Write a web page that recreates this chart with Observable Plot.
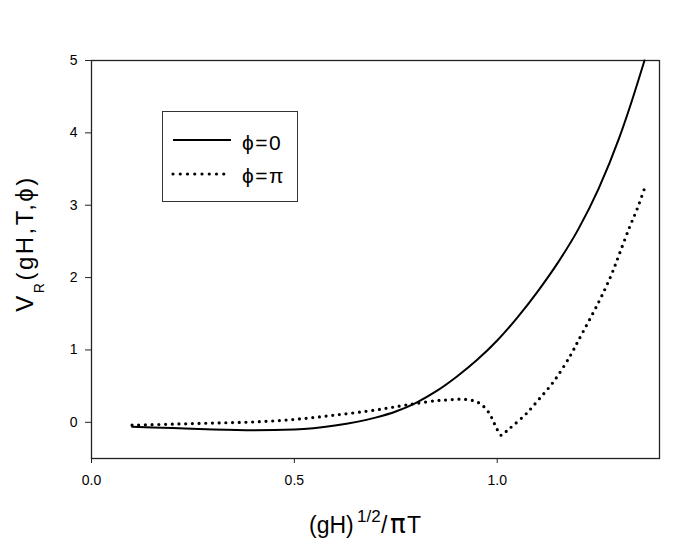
<!DOCTYPE html>
<html>
<head>
<meta charset="utf-8">
<script src="https://cdn.jsdelivr.net/npm/d3@7"></script>
<script src="https://cdn.jsdelivr.net/npm/@observablehq/plot@0.6"></script>
<style>
  body { margin: 0; background: #fff; }
  #wrap { position: relative; width: 692px; height: 544px; font-family: "Liberation Sans", Arial, sans-serif; }
  #legend { position: absolute; left: 162px; top: 111px; }
</style>
</head>
<body>
<div id="wrap"></div>
<script>
// ---- data ----
const xTicks = [0, 0.5, 1.0];
const yTicks = [0, 1, 2, 3, 4, 5];

const seriesNames = ["ϕ=0", "ϕ=π"];

const xPhi0 = [0.10, 0.20, 0.30, 0.40, 0.50, 0.60, 0.70, 0.75, 0.80, 0.85, 0.90, 0.95, 1.00, 1.05, 1.10, 1.15, 1.20, 1.25, 1.30, 1.33, 1.363];
const yPhi0 = [-0.06, -0.08, -0.10, -0.11, -0.10, -0.045, 0.065, 0.15, 0.27, 0.43, 0.63, 0.86, 1.13, 1.45, 1.81, 2.21, 2.67, 3.23, 3.92, 4.41, 5.0];

const xPhiPi = [0.10, 0.20, 0.30, 0.40, 0.50, 0.60, 0.70, 0.76, 0.80, 0.85, 0.88, 0.91, 0.94, 0.96, 0.98, 0.995, 1.01, 1.025, 1.04, 1.07, 1.10, 1.14, 1.18, 1.20, 1.25, 1.28, 1.30, 1.325, 1.345, 1.366];
const yPhiPi = [-0.04, -0.025, -0.01, 0.005, 0.04, 0.10, 0.17, 0.225, 0.26, 0.30, 0.31, 0.32, 0.30, 0.25, 0.13, -0.04, -0.18, -0.11, -0.04, 0.11, 0.30, 0.57, 0.92, 1.13, 1.66, 2.02, 2.31, 2.68, 2.95, 3.28];

const solid = xPhi0.map((x, i) => ({x, y: yPhi0[i]}));
const dotted = xPhiPi.map((x, i) => ({x, y: yPhiPi[i]}));

const chart = Plot.plot({
  width: 692,
  height: 544,
  marginLeft: 91,
  marginRight: 33,
  marginTop: 60,
  marginBottom: 86,
  style: { fontFamily: "Liberation Sans, Arial, sans-serif", fontSize: "14px", color: "#000", background: "#fff" },
  x: { domain: [0, 1.4] },
  y: { domain: [-0.5, 5] },
  marks: [
    Plot.frame({ stroke: "#222", strokeWidth: 1.3 }),
    Plot.axisX({ ticks: xTicks, tickFormat: d3.format(".1f"), tickSize: 5, tickPadding: 12, label: null, stroke: "#222" }),
    Plot.axisY({ ticks: yTicks, tickFormat: d3.format("d"), tickSize: 6, tickPadding: 8, label: null, stroke: "#222" }),
    Plot.line(solid, { x: "x", y: "y", curve: "monotone-x", stroke: "#000", strokeWidth: 2 }),
    Plot.line(dotted, { x: "x", y: "y", curve: "catmull-rom", stroke: "#000", strokeWidth: 3.2,
      strokeDasharray: "0 6.7", strokeLinecap: "round" })
  ]
});

const svg = d3.select(chart);

// x-axis title: (gH)^{1/2}/πT
const xt = svg.append("text")
  .attr("y", 533)
  .attr("fill", "#000")
  .attr("text-anchor", "start")
  .style("font-family", "Liberation Sans, Arial, sans-serif");
xt.append("tspan").attr("x", 309).style("font-size", "23px").text("(gH)");
xt.append("tspan").attr("x", 357).attr("dy", -11.5).style("font-size", "17px").text("1/2");
xt.append("tspan").attr("x", 381).attr("dy", 11.5).style("font-size", "23px").text("/");
xt.append("tspan").attr("x", 390).style("font-size", "26px").style("font-family", "DejaVu Sans, sans-serif").text("π");
xt.append("tspan").attr("x", 407).style("font-size", "23px").text("T");

// y-axis title: V_R(gH,T,ϕ)
const yt = svg.append("text")
  .attr("transform", "translate(33,311.7) rotate(-90)")
  .attr("fill", "#000")
  .attr("text-anchor", "start")
  .attr("textLength", 134)
  .attr("lengthAdjust", "spacing")
  .style("font-family", "Liberation Sans, Arial, sans-serif");
yt.append("tspan").style("font-size", "24px").text("V");
yt.append("tspan").attr("dy", 11).style("font-size", "14px").text("R");
yt.append("tspan").attr("dy", -11).style("font-size", "24px").text("(gH,T,ϕ)");

document.getElementById("wrap").appendChild(chart);

// legend (HTML overlay)
const lg = d3.select("#wrap").append("svg")
  .attr("id", "legend")
  .attr("width", 137).attr("height", 92);
lg.append("rect").attr("x", 0.5).attr("y", 0.5).attr("width", 135).attr("height", 90)
  .attr("fill", "#fff").attr("stroke", "#333").attr("stroke-width", 1);
lg.append("line").attr("x1", 11).attr("x2", 69).attr("y1", 29).attr("y2", 29)
  .attr("stroke", "#000").attr("stroke-width", 2);
lg.append("line").attr("x1", 11).attr("x2", 69).attr("y1", 63).attr("y2", 63)
  .attr("stroke", "#000").attr("stroke-width", 3.2).attr("stroke-dasharray", "0 7.25").attr("stroke-linecap", "round");
lg.selectAll("text.lab").data(seriesNames).join("text")
  .attr("class", "lab")
  .attr("x", 80).attr("y", (d, i) => i === 0 ? 39 : 72)
  .attr("fill", "#000")
  .style("font-size", "21px")
  .style("letter-spacing", "1.5px")
  .style("font-family", "Liberation Sans, Arial, sans-serif")
  .text(d => d);
</script>
</body>
</html>
